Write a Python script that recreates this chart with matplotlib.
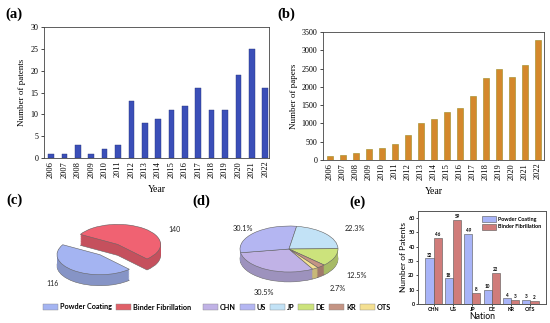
import matplotlib
matplotlib.use("Agg")
import matplotlib.pyplot as plt
from matplotlib.colors import to_rgb
from matplotlib.patches import Patch
import numpy as np

# ---- data ----
years = list(range(2006, 2023))
patents = [1, 1, 3, 1, 2, 3, 13, 8, 9, 11, 12, 16, 11, 11, 19, 25, 16]
papers = [100, 140, 200, 290, 330, 440, 680, 1000, 1120, 1300, 1410,
          1760, 2230, 2500, 2260, 2600, 3280]

methods = ["Powder Coating", "Binder Fibrillation"]
method_totals = [116, 140]

nations = ["CHN", "US", "JP", "DE", "KR", "OTS"]
powder = [32, 18, 49, 10, 4, 3]
binder = [46, 59, 8, 22, 3, 2]
nation_totals = [p + b for p, b in zip(powder, binder)]

W, H = 550, 323
SERIF = "Liberation Serif"
SANS = "Lato"

fig = plt.figure(figsize=(W / 100, H / 100), dpi=100)


def px_axes(x0, y0, x1, y1):
    return fig.add_axes([x0 / W, 1 - y1 / H, (x1 - x0) / W, (y1 - y0) / H])


def style_year_axes(ax, ylabel):
    for s in ax.spines.values():
        s.set_linewidth(0.6)
        s.set_color("#444444")
    ax.set_xticks(range(len(years)))
    ax.set_xticklabels([str(y) for y in years], rotation=90,
                       fontsize=6, family=SERIF)
    ax.tick_params(axis="x", length=0, pad=2)
    ax.tick_params(axis="y", length=2.5, width=0.5, labelsize=5.8, pad=1.5)
    for t in ax.get_yticklabels():
        t.set_family(SERIF)
    ax.set_xlabel("Year", fontsize=7, family=SERIF, labelpad=5)
    ax.set_ylabel(ylabel, fontsize=6.5, family=SERIF, labelpad=3)


# (a) patents per year
ax = px_axes(44, 27, 269, 158)
ax.bar(range(len(years)), patents, width=0.42, color="#3b4fb8",
       edgecolor="#26347a", linewidth=0.3)
ax.set_xlim(-0.52, 16.28)
ax.set_ylim(0, 30)
ax.set_yticks(range(0, 31, 5))
style_year_axes(ax, "Number of patents")

# (b) papers per year
ax = px_axes(323, 32, 544, 160)
ax.bar(range(len(years)), papers, width=0.4, color="#d4882c",
       edgecolor="#9a8a20", linewidth=0.4)
ax.set_xlim(-0.54, 16.46)
ax.set_ylim(0, 3500)
ax.set_yticks(range(0, 3501, 500))
style_year_axes(ax, "Number of papers")


def pie3d(ax, vals, tops, start, depth, explode=None, counterclock=True,
          layers=16):
    sides = [tuple(c * 0.82 for c in to_rgb(t)) for t in tops]
    for i, k in enumerate(np.linspace(depth, 0.02, layers)):
        edge = dict(linewidth=0.4, edgecolor="#666666") if i == 0 else \
            dict(linewidth=0)
        ax.pie(vals, colors=sides, startangle=start, explode=explode,
               center=(0, -k), counterclock=counterclock, wedgeprops=edge)
    ax.pie(vals, colors=tops, startangle=start, explode=explode,
           counterclock=counterclock,
           wedgeprops=dict(linewidth=0.4, edgecolor="#666666"))
    ax.set_aspect("auto")


# (c) 3D pie of methods
ax = px_axes(30, 212, 190, 298)
pie3d(ax, method_totals, ["#a4b4f2", "#f06272"], 150, 0.55,
      explode=[0.3, 0.36])
ax.set_xlim(-1.814, 1.907)
ax.set_ylim(-2.4, 1.9)
c_label_pos = [(-1.30, -1.65), (1.55, 1.05)]
for (x, y), v in zip(c_label_pos, method_totals):
    ax.text(x, y, str(v), fontsize=5, family=SANS, ha="center",
            va="center", color="#222222")
ax.axis("off")

# (d) 3D pie of nations
ax = px_axes(200, 210, 380, 298)
nation_cols = ["#c0b2e6", "#b4b6f2", "#c2e2f6", "#cce37c", "#c49484",
               "#f4e092"]
pie3d(ax, nation_totals, nation_cols, 299, 0.43, counterclock=False)
ax.set_xlim(-1.816, 1.857)
ax.set_ylim(-2.13, 1.696)
d_label_pos = {"CHN": (-0.51, -1.91), "US": (-0.94, 0.91),
               "JP": (1.35, 0.87), "DE": (1.39, -1.17), "KR": (1.0, -1.70)}
tot = sum(nation_totals)
for n, v in zip(nations, nation_totals):
    if n in d_label_pos:
        x, y = d_label_pos[n]
        ax.text(x, y, "%.1f%%" % (100.0 * v / tot), fontsize=5.3,
                family=SANS, ha="center", va="center", color="#222222")
ax.axis("off")

leg_prop = dict(family=SANS, weight="bold", size=5.2)
leg_kw = dict(loc="center", frameon=False, prop=leg_prop, handlelength=2.1,
              handleheight=0.85, handletextpad=0.3, columnspacing=0.5,
              borderpad=0)
fig.legend([Patch(facecolor=c, edgecolor="#888888", linewidth=0.3)
            for c in ["#a4b4f2", "#e06068"]], methods,
           bbox_to_anchor=(117 / W, 1 - 307 / H), ncol=2, **leg_kw)
fig.legend([Patch(facecolor=c, edgecolor="#888888", linewidth=0.3)
            for c in nation_cols], nations,
           bbox_to_anchor=(297 / W, 1 - 307 / H), ncol=6, **leg_kw)

# (e) grouped bars per nation
ax = px_axes(418, 211, 546, 304)
x = np.arange(len(nations))
w = 0.42
b1 = ax.bar(x - w / 2, powder, w, color="#a8b4f8", edgecolor="#555555",
            linewidth=0.4, label=methods[0])
b2 = ax.bar(x + w / 2, binder, w, color="#d07c7a", edgecolor="#555555",
            linewidth=0.4, label=methods[1])
for bars in (b1, b2):
    ax.bar_label(bars, fontsize=3.3, fontweight="bold", family=SANS,
                 padding=0.5)
ax.set_xlim(-0.8, 5.8)
ax.set_ylim(0, 65)
ax.set_yticks(range(0, 61, 10))
ax.set_xticks(x)
ax.set_xticklabels(nations)
for t in ax.get_xticklabels() + ax.get_yticklabels():
    t.set_family(SANS)
    t.set_fontweight("bold")
ax.tick_params(axis="both", labelsize=3.9, length=1.5, width=0.5, pad=1)
for s in ax.spines.values():
    s.set_linewidth(0.7)
    s.set_color("#555555")
ax.set_xlabel("Nation", fontsize=6.2, family=SANS, labelpad=0)
ax.set_ylabel("Number of Patents", fontsize=6, family=SANS, labelpad=1)
ax.legend(loc="upper right", frameon=False, prop=dict(family=SANS,
          weight="bold", size=3.9), handlelength=2.6, handleheight=1.3,
          handletextpad=0.4, borderaxespad=0.5, labelspacing=0.35)

# panel letters
for lab, px, py in [("(a)", 5, 14), ("(b)", 277, 14), ("(c)", 6, 200),
                    ("(d)", 192, 201), ("(e)", 349, 202)]:
    fig.text(px / W, 1 - py / H, lab, fontsize=10.5, fontweight="bold",
             family=SERIF, ha="left", va="center")

fig.savefig("out.png", dpi=100)
